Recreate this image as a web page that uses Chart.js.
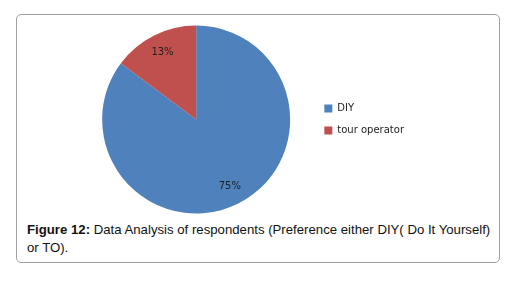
<!DOCTYPE html>
<html>
<head>
<style>
  html, body { margin: 0; padding: 0; background: #fff; }
  body { width: 511px; height: 284px; position: relative; overflow: hidden; }
  #frame {
    position: absolute; left: 16px; top: 14px; width: 484px; height: 249px;
    border: 1px solid #a0a0a0; border-radius: 5px; box-sizing: border-box;
  }
  #wrap { position: absolute; left: 0; top: 0; width: 511px; height: 220px; }
  #caption {
    position: absolute; left: 27px; top: 221px; width: 470px;
    font: 13.2px "Liberation Sans", Arial, sans-serif; line-height: 17.5px; color: #111;
  }
</style>
</head>
<body>
<div id="frame"></div>
<div id="wrap"><canvas id="_chart" width="511" height="220"></canvas></div>
<div id="caption"><b>Figure 12:</b> Data Analysis of respondents (Preference either DIY( Do It Yourself) or TO).</div>

<script src="https://cdn.jsdelivr.net/npm/chart.js@4/dist/chart.umd.min.js"></script>
<script>
var labels = ['DIY', 'tour operator'];
var values = [75, 13];
var valueLabels = ['75%', '13%'];
var colors = ['#4F81BD', '#C0504D'];

// draws the percent text inside each slice
var sliceLabels = {
	id: 'sliceLabels',
	afterDatasetsDraw(chart) {
		var ctx = chart.ctx;
		var meta = chart.getDatasetMeta(0);
		ctx.save();
		ctx.font = '10px "DejaVu Sans"';
		ctx.fillStyle = '#1f1f1f';
		ctx.textAlign = 'center';
		ctx.textBaseline = 'middle';
		meta.data.forEach((arc, i) => {
			var mid = (arc.startAngle + arc.endAngle) / 2;
			var r = arc.outerRadius * 0.8;
			ctx.fillText(valueLabels[i], arc.x + Math.cos(mid) * r, arc.y + Math.sin(mid) * r);
		});
		ctx.restore();
	}
};

var chart = new Chart(_chart, {
	type: 'pie',
	data: {
		labels: labels,
		datasets: [{
			data: values,
			backgroundColor: colors,
			borderWidth: 0
		}]
	},
	options: {
		responsive: false,
		animation: false,
		layout: { padding: { left: 80, top: 25.5, bottom: 6.5, right: 97 } },
		plugins: {
			tooltip: { enabled: false },
			legend: {
				position: 'right',
				labels: {
					boxWidth: 8,
					boxHeight: 8,
					padding: 12,
					color: '#222',
					font: { family: 'DejaVu Sans', size: 10 }
				}
			}
		}
	},
	plugins: [sliceLabels]
});
</script>
</body>
</html>
